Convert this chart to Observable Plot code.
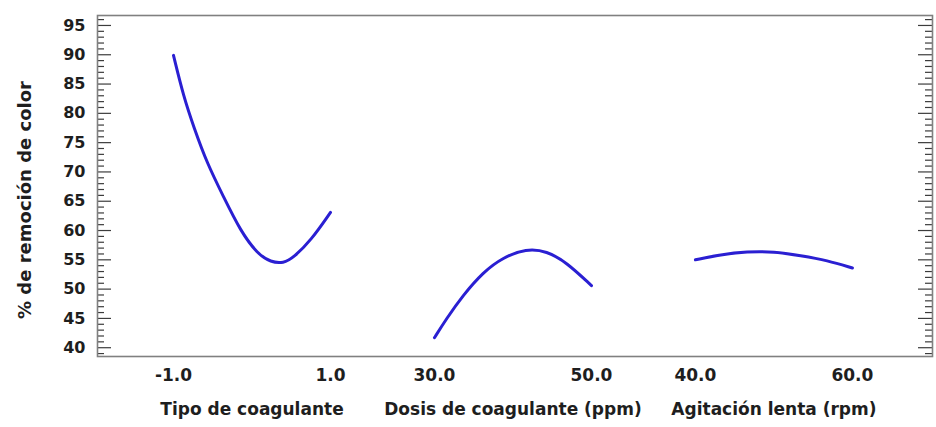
<!DOCTYPE html>
<html><head><meta charset="utf-8">
<script src="https://cdn.jsdelivr.net/npm/d3@7"></script>
<script src="https://cdn.jsdelivr.net/npm/@observablehq/plot@0.6"></script>
<style>body{margin:0;background:#fff} svg{display:block}</style>
</head><body><div id="chart"></div>
<script>
// ---- data ----
const factors = ["Tipo de coagulante", "Dosis de coagulante (ppm)", "Agitación lenta (rpm)"];
const factorRanges = [[-1, 1], [30, 50], [40, 60]];
const tipoX = [-1.0, -0.87, -0.74, -0.57, -0.36, -0.15, 0.07, 0.24, 0.40, 0.53, 0.75, 1.0];
const tipoY = [89.9, 82.8, 77.6, 71.4, 65.7, 60.0, 56.0, 54.6, 54.4, 55.4, 58.3, 63.1];
const dosisX = [30, 31.5, 33.6, 36.2, 38.7, 41.7, 44.3, 46.8, 50];
const dosisY = [41.7, 44.9, 48.9, 52.9, 55.4, 56.9, 56.5, 54.6, 50.6];
const agitX = [40, 43.2, 46.6, 50, 53.4, 56.8, 60];
const agitY = [55.0, 55.9, 56.4, 56.4, 55.7, 54.9, 53.6];
const xTickValues = [[-1, 1], [30, 50], [40, 60]];
const xTickLabels = [["-1.0", "1.0"], ["30.0", "50.0"], ["40.0", "60.0"]];
const yLabel = "% de remoción de color";
const yMajor = [40, 45, 50, 55, 60, 65, 70, 75, 80, 85, 90, 95];
const yMinor = [39, 41, 42, 43, 44, 46, 47, 48, 49, 51, 52, 53, 54, 56, 57, 58, 59, 61, 62, 63, 64,
  66, 67, 68, 69, 71, 72, 73, 74, 76, 77, 78, 79, 81, 82, 83, 84, 86, 87, 88, 89, 91, 92, 93, 94, 96];

// ---- layout: each factor occupies one unit on a shared x scale ----
const W = 936, H = 427, mL = 97, mR = 4, mT = 15, mB = 71;
const xDomain = [-0.484, 4.834];
const pxPerU = (W - mL - mR) / (xDomain[1] - xDomain[0]);
const slotStep = 1.662;
const toU = (i, v) => i * slotStep + (v - factorRanges[i][0]) / (factorRanges[i][1] - factorRanges[i][0]);

const series = [[tipoX, tipoY], [dosisX, dosisY], [agitX, agitY]];
const lineData = series.flatMap(([xs, ys], i) => xs.map((v, j) => ({factor: factors[i], u: toU(i, v), y: ys[j]})));
const xTicks = xTickValues.flatMap((vals, i) => vals.map((v, j) => ({u: toU(i, v), label: xTickLabels[i][j]})));
const factorLabels = factors.map((f, i) => ({u: i * slotStep + 0.5, label: f}));

const font = "DejaVu Sans, Liberation Sans, Arial, sans-serif";
const ink = "#1e1e1e";
const tickColor = "#3c3c3c";
// inward ticks on the left and right edges of the frame
const edgeTicks = (vals, len) => [
  Plot.ruleY(vals, {y: d => d, x1: xDomain[0], x2: xDomain[0] + len / pxPerU, stroke: tickColor, strokeWidth: 1.2}),
  Plot.ruleY(vals, {y: d => d, x1: xDomain[1] - len / pxPerU, x2: xDomain[1], stroke: tickColor, strokeWidth: 1.2})
];

const chart = Plot.plot({
  width: W,
  height: H,
  marginLeft: mL,
  marginRight: mR,
  marginTop: mT,
  marginBottom: mB,
  style: {background: "#fff", fontFamily: font},
  x: {domain: xDomain, axis: null},
  y: {domain: [38.5, 96.7], axis: null},
  marks: [
    ...edgeTicks(yMinor, 7),
    ...edgeTicks(yMajor, 14),
    Plot.frame({stroke: "#808080", strokeWidth: 1.6}),
    Plot.axisY(yMajor, {anchor: "left", tickSize: 0, tickPadding: 12, fontSize: 16, fontWeight: "bold", fill: ink, label: null}),
    Plot.text([yLabel], {frameAnchor: "left", textAnchor: "middle", rotate: -90, dx: -72, dy: 14, fontSize: 18, fontWeight: "bold", fill: ink}),
    Plot.line(lineData, {x: "u", y: "y", z: "factor", stroke: "#2a1fd2", strokeWidth: 3, curve: "basis"}),
    Plot.text(xTicks, {x: "u", text: "label", frameAnchor: "bottom", dy: 24, fontSize: 17, fontWeight: "bold", fill: ink}),
    Plot.text(factorLabels, {x: "u", text: "label", frameAnchor: "bottom", dy: 58, fontSize: 17, fontWeight: "bold", fill: ink})
  ]
});
document.getElementById("chart").append(chart);
</script>
</body></html>
